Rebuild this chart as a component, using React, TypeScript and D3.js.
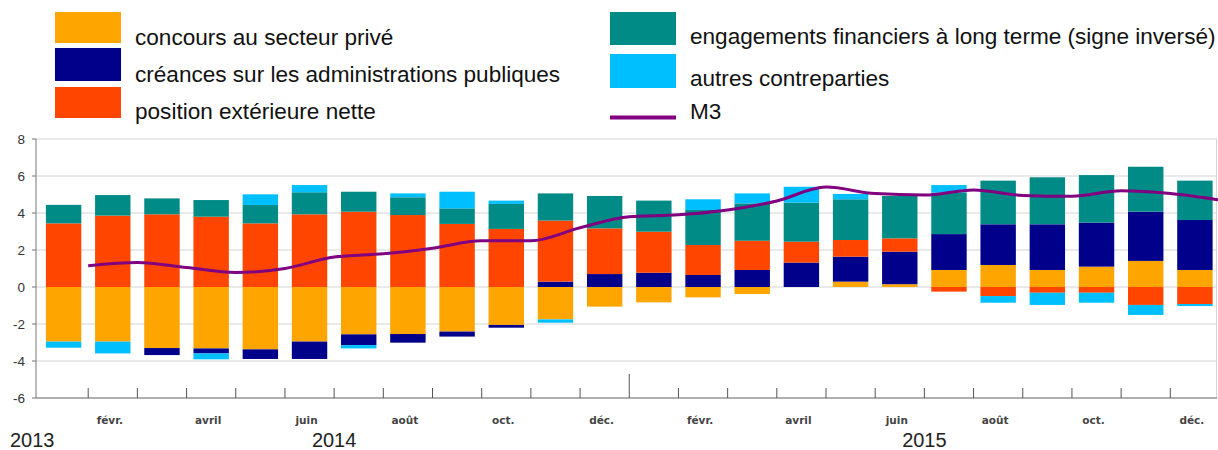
import React, { useEffect, useRef } from 'react';
import * as d3 from 'd3';

// months (janv. 2014 .. déc. 2015)
const months = [
  '2014-01', '2014-02', '2014-03', '2014-04', '2014-05', '2014-06',
  '2014-07', '2014-08', '2014-09', '2014-10', '2014-11', '2014-12',
  '2015-01', '2015-02', '2015-03', '2015-04', '2015-05', '2015-06',
  '2015-07', '2015-08', '2015-09', '2015-10', '2015-11', '2015-12'
];
const monthLabels = ['', 'févr.', '', 'avril', '', 'juin', '', 'août', '', 'oct.', '', 'déc.',
  '', 'févr.', '', 'avril', '', 'juin', '', 'août', '', 'oct.', '', 'déc.'];
const years = ['2014', '2015'];
const yTicks = [-6, -4, -2, 0, 2, 4, 6, 8];

const concours = [-2.95, -2.95, -3.3, -3.32, -3.37, -2.95, -2.56, -2.54, -2.41, -2.05, -1.75, -1.06,
  -0.83, -0.56, -0.38, 0, 0.29, 0.15, 0.92, 1.19, 0.92, 1.1, 1.41, 0.92];
const creances = [0, 0, -0.38, -0.27, -0.52, -0.94, -0.58, -0.47, -0.27, -0.15, 0.29, 0.7,
  0.77, 0.65, 0.92, 1.32, 1.35, 1.76, 1.94, 2.2, 2.47, 2.38, 2.66, 2.7];
const position = [3.44, 3.86, 3.93, 3.8, 3.44, 3.93, 4.07, 3.89, 3.41, 3.14, 3.3, 2.47,
  2.22, 1.62, 1.58, 1.13, 0.9, 0.72, -0.25, -0.49, -0.31, -0.31, -0.97, -0.92];
const engagements = [1.0, 1.11, 0.86, 0.9, 0.99, 1.19, 1.08, 0.96, 0.84, 1.35, 1.47, 1.75,
  1.68, 1.89, 2.02, 2.11, 2.2, 2.29, 2.24, 2.36, 2.54, 2.57, 2.43, 2.13];
const autres = [-0.33, -0.64, 0, -0.32, 0.58, 0.39, -0.18, 0.21, 0.9, 0.18, -0.18, 0,
  0, 0.58, 0.54, 0.86, 0.29, 0, 0.41, -0.36, -0.66, -0.54, -0.54, -0.11];
const m3 = [1.15, 1.32, 1.05, 0.78, 1.0, 1.62, 1.8, 2.1, 2.5, 2.5, 3.2, 3.8,
  3.9, 4.16, 4.65, 5.4, 5.05, 4.97, 5.25, 4.95, 4.9, 5.2, 5.05, 4.7];

const seriesKeys = ['concours', 'creances', 'position', 'engagements', 'autres'];
const seriesNames = [
  'concours au secteur privé',
  'créances sur les administrations publiques',
  'position extérieure nette',
  'engagements financiers à long terme (signe inversé)',
  'autres contreparties'
];
const colors = ['#ffa500', '#00008b', '#ff4500', '#008b86', '#00bfff'];

export default function App() {
  const ref = useRef<SVGSVGElement>(null);

  useEffect(() => {
    const svg = d3.select(ref.current);
    svg.selectAll('*').remove();
    const font = 'Liberation Sans, Arial, sans-serif';

    const table = months.map((m, i) => ({
      month: m,
      concours: concours[i],
      creances: creances[i],
      position: position[i],
      engagements: engagements[i],
      autres: autres[i]
    }));

    const x = d3.scaleBand().domain(months).range([39, 1219.5]).paddingInner(0.28).paddingOuter(0.14);
    const y = d3.scaleLinear().domain([-6, 8]).range([398, 139]);
    const step = x.step();

    // grid
    svg.append('g').selectAll('line').data(yTicks).enter().append('line')
      .attr('x1', 36).attr('x2', 1217)
      .attr('y1', d => y(d)).attr('y2', d => y(d))
      .attr('stroke', '#d4d4d4').attr('stroke-width', 1);
    svg.append('line').attr('x1', 1216.5).attr('x2', 1216.5).attr('y1', y(8)).attr('y2', y(-6))
      .attr('stroke', '#d4d4d4');

    // bars
    const stacked = d3.stack<any>().keys(seriesKeys).offset(d3.stackOffsetDiverging)(table);
    stacked.forEach((s, k) => {
      svg.append('g').attr('fill', colors[k]).selectAll('rect').data(s).enter().append('rect')
        .attr('x', d => x(d.data.month) as number)
        .attr('width', x.bandwidth())
        .attr('y', d => y(Math.max(d[0], d[1])))
        .attr('height', d => Math.abs(y(d[0]) - y(d[1])));
    });

    // M3 line, points at the right edge of each month
    const line = d3.line<number>()
      .x((d, i) => (x(months[i]) as number) + x.bandwidth() / 2 + step / 2)
      .y(d => y(d))
      .curve(d3.curveMonotoneX);
    svg.append('path').datum(m3).attr('d', line)
      .attr('fill', 'none').attr('stroke', '#800080').attr('stroke-width', 3);

    // axes
    svg.append('line').attr('x1', 36).attr('x2', 36).attr('y1', y(8)).attr('y2', y(-6))
      .attr('stroke', '#777');
    svg.append('line').attr('x1', 36).attr('x2', 1217).attr('y1', y(-6)).attr('y2', y(-6))
      .attr('stroke', '#777');
    svg.append('g').selectAll('line').data(yTicks).enter().append('line')
      .attr('x1', 32).attr('x2', 36).attr('y1', d => y(d)).attr('y2', d => y(d))
      .attr('stroke', '#777');
    svg.append('g').selectAll('text').data(yTicks).enter().append('text')
      .text(d => d)
      .attr('x', 25).attr('y', d => y(d) + 5)
      .attr('text-anchor', 'end')
      .attr('font-family', font).attr('font-size', 13.5).attr('fill', '#333');

    // x ticks at month boundaries
    svg.append('g').selectAll('line').data(months.slice(0, -1)).enter().append('line')
      .attr('x1', d => (x(d) as number) + x.bandwidth() / 2 + step / 2)
      .attr('x2', d => (x(d) as number) + x.bandwidth() / 2 + step / 2)
      .attr('y1', d => d === '2014-12' ? 374 : 388).attr('y2', 398)
      .attr('stroke', '#555');

    svg.append('g').selectAll('text').data(months).enter().append('text')
      .text((d, i) => monthLabels[i])
      .attr('x', d => (x(d) as number) + x.bandwidth() / 2 - 3)
      .attr('y', 424)
      .attr('text-anchor', 'middle')
      .attr('font-family', 'DejaVu Sans, Verdana, sans-serif').attr('font-weight', 'bold')
      .attr('font-size', 10.5).attr('fill', '#444');

    svg.append('g').selectAll('text').data(years).enter().append('text')
      .text(d => d)
      .attr('x', (d, i) => {
        const a = x(months[i * 12]) as number;
        const b = (x(months[i * 12 + 11]) as number) + x.bandwidth();
        return (a + b) / 2;
      })
      .attr('y', 447)
      .attr('text-anchor', 'middle')
      .attr('font-family', font).attr('font-size', 20).attr('fill', '#222');
    svg.append('text').text('2013').attr('x', 10).attr('y', 447)
      .attr('font-family', font).attr('font-size', 20).attr('fill', '#222');

    // legend
    const legend = [
      { x: 55, y: 12, h: 31, ty: 45, i: 0 },
      { x: 55, y: 48, h: 33, ty: 82, i: 1 },
      { x: 55, y: 87, h: 31, ty: 119, i: 2 },
      { x: 610, y: 12, h: 33, ty: 44, i: 3 },
      { x: 610, y: 54, h: 34, ty: 86, i: 4 }
    ];
    const lg = svg.append('g');
    legend.forEach(l => {
      lg.append('rect').attr('x', l.x).attr('y', l.y).attr('width', 66).attr('height', l.h)
        .attr('fill', colors[l.i]);
      lg.append('text').text(seriesNames[l.i])
        .attr('transform', `translate(${l.x + 80},${l.ty}) scale(1.05,1)`)
        .attr('font-family', font).attr('font-size', 21.5).attr('fill', '#111');
    });
    lg.append('line').attr('x1', 610).attr('x2', 676).attr('y1', 117.5).attr('y2', 117.5)
      .attr('stroke', '#800080').attr('stroke-width', 4);
    lg.append('text').text('M3').attr('transform', 'translate(690,119) scale(1.05,1)')
      .attr('font-family', font).attr('font-size', 21.5).attr('fill', '#111');
  }, []);

  return (
    <svg ref={ref} width={1218} height={450}
      style={{ position: 'absolute', left: 0, top: 0, background: '#fff' }} />
  );
}
